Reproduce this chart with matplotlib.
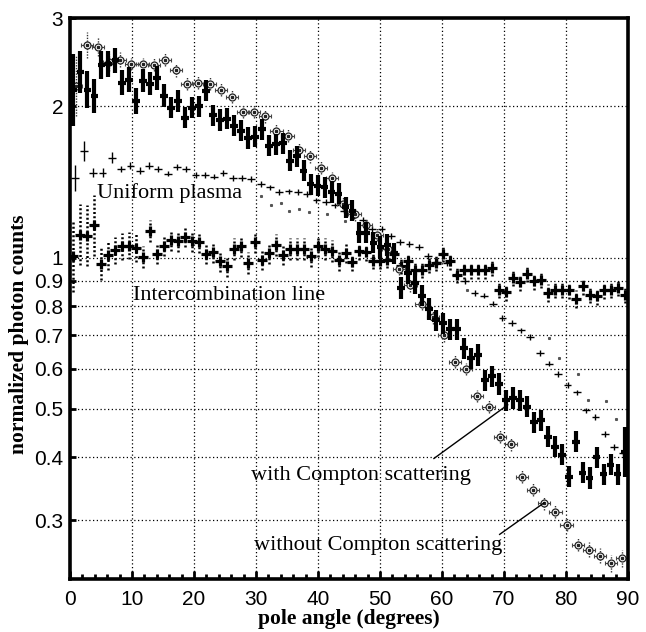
import numpy as np
import matplotlib
matplotlib.use("Agg")
import matplotlib.pyplot as plt
from matplotlib.ticker import FixedLocator, MultipleLocator, NullLocator, FixedFormatter

# ---------------- data ----------------
# binned in pole angle 0..90 degrees
n_with, n_without, n_uniform, n_inter = 80, 50, 60, 80

with_compton = [2.16, 2.34, 2.16, 2.10, 2.42, 2.43, 2.47, 2.23, 2.26, 2.05,
                2.25, 2.22, 2.28, 2.10, 1.99, 2.05, 1.90, 1.99, 2.00, 2.15,
                1.92, 1.88, 1.89, 1.83, 1.79, 1.73, 1.74, 1.80, 1.67, 1.68,
                1.69, 1.56, 1.59, 1.49, 1.40, 1.39, 1.38, 1.35, 1.34, 1.26,
                1.24, 1.12, 1.12, 1.07, 1.05, 1.06, 1.02, 0.87, 0.93, 0.89,
                0.84, 0.79, 0.75, 0.74, 0.72, 0.72, 0.66, 0.63, 0.64, 0.57,
                0.58, 0.56, 0.52, 0.525, 0.52, 0.505, 0.47, 0.474, 0.44, 0.42,
                0.405, 0.366, 0.43, 0.373, 0.364, 0.40, 0.37, 0.387, 0.37, 0.41]
with_err = [0.18, 0.10, 0.09, 0.08, 0.065, 0.06, 0.06, 0.06, 0.06, 0.06,
            0.055, 0.055, 0.055, 0.055, 0.05, 0.05, 0.05, 0.05, 0.05, 0.05,
            0.05, 0.05, 0.05, 0.05, 0.05, 0.05, 0.05, 0.05, 0.05, 0.05,
            0.05, 0.05, 0.05, 0.05, 0.05, 0.05, 0.05, 0.05, 0.05, 0.05,
            0.05, 0.05, 0.05, 0.05, 0.05, 0.05, 0.05, 0.05, 0.05, 0.05,
            0.05, 0.05, 0.05, 0.05, 0.05, 0.05, 0.05, 0.05, 0.05, 0.05,
            0.05, 0.05, 0.05, 0.05, 0.05, 0.05, 0.05, 0.05, 0.05, 0.05,
            0.05, 0.05, 0.05, 0.05, 0.05, 0.05, 0.05, 0.05, 0.05, 0.12]

without_compton = [2.20, 2.65, 2.63, 2.45, 2.48, 2.43, 2.43, 2.42, 2.48, 2.36,
                   2.22, 2.23, 2.22, 2.16, 2.09, 1.95, 1.95, 1.91, 1.79, 1.75,
                   1.64, 1.59, 1.51, 1.44, 1.28, 1.22, 1.16, 1.11, 1.04, 0.95,
                   0.88, 0.81, 0.76, 0.70, 0.62, 0.60, 0.53, 0.505, 0.44, 0.425,
                   0.366, 0.345, 0.324, 0.312, 0.294, 0.268, 0.262, 0.255, 0.246, 0.252]
without_err = [0.15, 0.06, 0.045, 0.04, 0.035, 0.03, 0.03, 0.03, 0.03, 0.03,
               0.03, 0.03, 0.03, 0.03, 0.03, 0.03, 0.03, 0.03, 0.03, 0.03,
               0.03, 0.03, 0.03, 0.03, 0.03, 0.03, 0.03, 0.03, 0.03, 0.03,
               0.03, 0.03, 0.03, 0.03, 0.03, 0.03, 0.03, 0.03, 0.03, 0.03,
               0.03, 0.03, 0.03, 0.03, 0.03, 0.03, 0.035, 0.035, 0.04, 0.04]

uniform_plasma = [1.44, 1.63, 1.475, 1.475, 1.58, 1.50, 1.525, 1.49, 1.525, 1.50,
                  1.47, 1.515, 1.50, 1.46, 1.46, 1.45, 1.475, 1.44, 1.44, 1.435,
                  1.40, 1.38, 1.35, 1.355, 1.35, 1.34, 1.30, 1.29, 1.27, 1.24,
                  1.21, 1.19, 1.14, 1.14, 1.105, 1.075, 1.063, 1.05, 1.006, 0.98,
                  0.976, 0.925, 0.897, 0.85, 0.84, 0.81, 0.758, 0.74, 0.716, 0.694,
                  0.646, 0.615, 0.587, 0.558, 0.539, 0.496, 0.482, 0.445, 0.42, 0.408]
uniform_err = [0.06, 0.045, 0.02, 0.02, 0.025, 0.015, 0.015, 0.015, 0.015, 0.015] + [0.013] * 50

intercombination = [1.006, 1.11, 1.105, 1.16, 0.973, 1.01, 1.034, 1.053, 1.056, 1.045,
                    1.003, 1.13, 1.018, 1.056, 1.083, 1.078, 1.10, 1.078, 1.073, 1.018,
                    1.025, 0.983, 0.961, 1.04, 1.053, 0.976, 1.073, 0.99, 1.02, 1.06,
                    1.014, 1.04, 1.04, 1.04, 1.006, 1.053, 1.04, 1.03, 0.988, 1.022,
                    0.979, 1.03, 1.025, 0.986, 0.986, 0.99, 1.018, 0.964, 0.983, 0.946,
                    0.946, 0.968, 0.976, 1.018, 0.983, 0.925, 0.943, 0.943, 0.943, 0.943,
                    0.954, 0.863, 0.852, 0.911, 0.893, 0.929, 0.897, 0.904, 0.85, 0.863,
                    0.863, 0.86, 0.827, 0.877, 0.844, 0.837, 0.86, 0.863, 0.87, 0.844]
inter_err = [0.18, 0.15, 0.15, 0.15, 0.08, 0.07, 0.065, 0.065, 0.065, 0.065] + [0.05] * 30 + [0.04] * 40

faint_angle = [30.8, 32.4, 34.0, 35.3, 36.9, 38.5, 41.5, 44.4, 64.1, 77.3, 78.9, 81.9, 83.5, 86.4, 88.0]
faint_value = [1.325, 1.27, 1.285, 1.24, 1.25, 1.23, 1.22, 1.18, 0.86, 0.69, 0.63, 0.587, 0.52, 0.517, 0.477]

x_ticks = [0, 10, 20, 30, 40, 50, 60, 70, 80, 90]
y_ticks = [0.3, 0.4, 0.5, 0.6, 0.7, 0.8, 0.9, 1, 2, 3]
y_labels = ["0.3", "0.4", "0.5", "0.6", "0.7", "0.8", "0.9", "1", "2", "3"]


def centers(n):
    w = 90.0 / n
    return (np.arange(n) + 0.5) * w, w


def logerr(vals, rel):
    v = np.asarray(vals)
    r = np.asarray(rel)
    return np.vstack([v - v / (1 + r), v * r])


SERIF = ["Liberation Serif", "DejaVu Serif"]
SANS = ["Liberation Sans", "DejaVu Sans"]

fig = plt.figure(figsize=(6.46, 6.32), dpi=100)
W, H = 646, 632
ax = fig.add_axes([70 / W, 1 - 579 / H, 558 / W, 561 / H])
ax.set_yscale("log")
ax.set_xlim(0, 90)
ax.set_ylim(0.229, 3.0)

# grid
for xv in x_ticks[1:-1]:
    ax.axvline(xv, color="black", lw=0.9, ls=(0, (1, 2)), zorder=1)
for yv in y_ticks[:-1]:
    ax.axhline(yv, color="black", lw=0.9, ls=(0, (1, 2)), zorder=1)

# faint tiny dots
ax.plot(faint_angle, faint_value, ls="none", marker="s", ms=1.2, color="#555555", zorder=2)

# intercombination line
xi, wi = centers(n_inter)
eb = ax.errorbar(xi, intercombination, yerr=logerr(intercombination, inter_err),
                 fmt="none", ecolor="black", elinewidth=1.8, capsize=0, zorder=3)
eb[2][0].set_linestyle((0, (0.8, 0.9)))
ax.plot(xi, intercombination, ls="none", marker="+", ms=6.5, mew=2.3, color="black", zorder=3)

# uniform plasma
xu, wu = centers(n_uniform)
ax.errorbar(xu, uniform_plasma, yerr=logerr(uniform_plasma, uniform_err),
            xerr=wu * 0.42, fmt="none", ecolor="black", elinewidth=1.0, capsize=0, zorder=3)

# without Compton scattering
xo, wo = centers(n_without)
eb = ax.errorbar(xo, without_compton, yerr=logerr(without_compton, without_err),
                 fmt="none", ecolor="#333333", elinewidth=1.0, capsize=0, zorder=4)
eb[2][0].set_linestyle((0, (1, 1)))
ax.errorbar(xo, without_compton, xerr=wo * 0.55, fmt="none", ecolor="#444444",
            elinewidth=0.8, capsize=1.5, capthick=0.8, zorder=4)
ax.plot(xo, without_compton, ls="none", marker="o", ms=5, mfc="white",
        mec="#222222", mew=0.9, zorder=5)
ax.plot(xo, without_compton, ls="none", marker="s", ms=1.6, color="#222222", zorder=6)

# with Compton scattering
xw, ww = centers(n_with)
ax.errorbar(xw, with_compton, yerr=logerr(with_compton, with_err), xerr=ww * 0.55,
            fmt="none", ecolor="black", elinewidth=3.0, capsize=0, zorder=6)

# annotations
tkw = dict(family=SERIF, fontsize=16, va="baseline", ha="left", zorder=7)
ax.text(4.4, 1.315, "Uniform plasma", **tkw)
ax.text(10.1, 0.825, "Intercombination line", **tkw)
ax.text(29.15, 0.361, "with Compton scattering", **tkw)
ax.text(29.7, 0.262, "without Compton scattering", **tkw)
ax.plot([58.7, 70.6], [0.398, 0.509], color="black", lw=1.0, zorder=7)
ax.plot([69.3, 76.5], [0.281, 0.325], color="black", lw=1.0, zorder=7)

# axes styling
for s in ax.spines.values():
    s.set_linewidth(2.6)
    s.set_color("black")
    s.set_zorder(8)

ax.xaxis.set_major_locator(FixedLocator(x_ticks))
ax.xaxis.set_minor_locator(MultipleLocator(2))
ax.yaxis.set_major_locator(FixedLocator(y_ticks))
ax.yaxis.set_major_formatter(FixedFormatter(y_labels))
ax.yaxis.set_minor_locator(NullLocator())
ax.tick_params(axis="x", which="major", direction="in", length=6, width=2, pad=8)
ax.tick_params(axis="x", which="minor", direction="in", length=3.5, width=2)
ax.tick_params(axis="y", which="major", direction="in", length=4, width=2, pad=5)
ax.tick_params(top=False, right=False)
for lab in ax.get_xticklabels() + ax.get_yticklabels():
    lab.set_family(SANS)
    lab.set_fontsize(15)

ax.set_xlabel("pole angle (degrees)", family=SERIF, fontweight="bold", fontsize=15.5, labelpad=0)
fig.text(19 / W, 1 - 334 / H, "normalized photon counts", family=SERIF, fontweight="bold",
         fontsize=15.5, rotation=90, ha="center", va="center")

fig.savefig("out.png", dpi=100)
